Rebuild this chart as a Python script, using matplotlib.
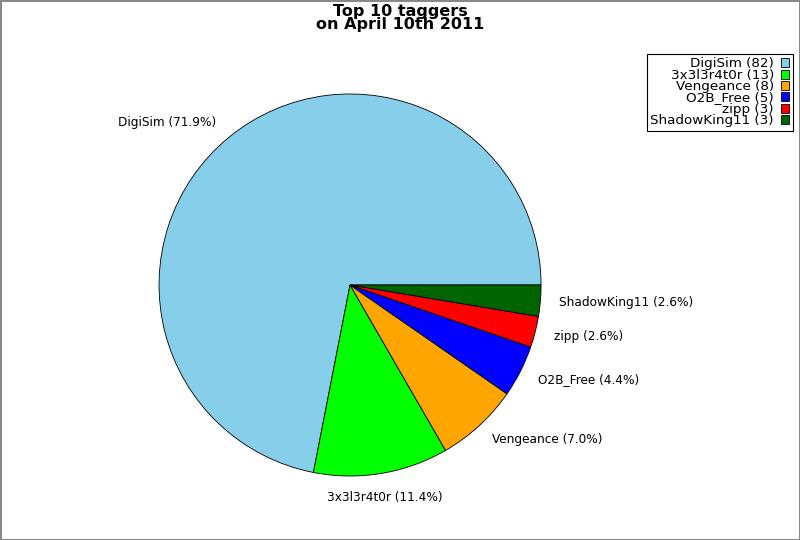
import matplotlib.pyplot as plt

names = ['DigiSim', '3x3l3r4t0r', 'Vengeance', 'O2B_Free', 'zipp', 'ShadowKing11']
counts = [82, 13, 8, 5, 3, 3]
colors = ['#87ceeb', '#00ff00', '#ffa500', '#0000ff', '#ff0000', '#006400']

total = sum(counts)
labels = [f'{n} ({c / total * 100:.1f}%)' for n, c in zip(names, counts)]

fig = plt.figure(figsize=(8, 5.4), dpi=100)
fig.patch.set_edgecolor('#888888')
fig.patch.set_linewidth(2)

ax = fig.add_axes([0.1391, 0.0301, 0.5969, 0.8843])
wedges, texts = ax.pie(counts, labels=labels, colors=colors, startangle=0,
                       counterclock=True, labeldistance=1.1,
                       wedgeprops={'edgecolor': 'black', 'linewidth': 0.6},
                       textprops={'fontsize': 8.7})
ax.set_aspect('equal')
# the bottom label sits centred under its wedge
texts[1].set_ha('center')
x, y = texts[1].get_position()
texts[1].set_position((x, y - 0.03))

fig.suptitle('Top 10 taggers\non April 10th 2011', fontsize=11.5, fontweight='bold',
             y=0.993, linespacing=0.88)

leg = fig.legend(wedges, [f'{n} ({c})' for n, c in zip(names, counts)],
                 loc='upper right', bbox_to_anchor=(0.991, 0.9),
                 markerfirst=False, fancybox=False, edgecolor='black',
                 fontsize=9.7, handlelength=0.65, handleheight=0.65,
                 handletextpad=0.5, labelspacing=-0.12, borderpad=0.25,
                 borderaxespad=0, framealpha=1)
leg.get_frame().set_linewidth(0.8)
for t in leg.get_texts():
    t.set_ha('right')

fig.savefig('out.png', dpi=100, edgecolor=fig.get_edgecolor())
